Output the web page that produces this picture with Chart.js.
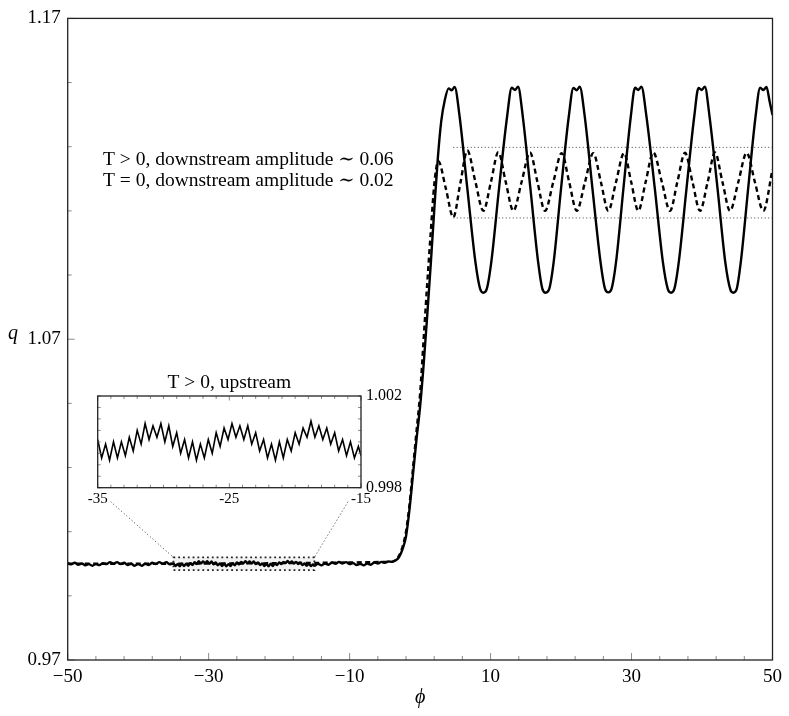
<!DOCTYPE html>
<html>
<head>
<meta charset="utf-8">
<script src="https://cdn.jsdelivr.net/npm/chart.js@4.4.1/dist/chart.umd.min.js"></script>
<style>
  html, body { margin: 0; padding: 0; background: #fff; }
  #wrap { position: relative; width: 789px; height: 716px; }
  #main { position: absolute; left: 0; top: 0; }
  #inset { position: absolute; left: 60px; top: 360px; }
</style>
</head>
<body>
<div id="wrap">
  <canvas id="main" width="789" height="716"></canvas>
  <canvas id="inset" width="370" height="160"></canvas>
</div>
<script>
// upstream, left of the zoom window
const upLeftPhi = [-50,-49.5,-49,-48.5,-48,-47.5,-47,-46.5,-46,-45.5,-45,-44.5,-44,-43.5,-43,-42.5,-42,-41.5,-41,-40.5,-40,-39.5,-39,-38.5,-38,-37.5,-37,-36.5,-36,-35.5]
const upLeftQ   = [1.0002,0.9998,1.0003,0.9997,1.0001,0.9995,0.9999,0.9994,0.9999,0.9996,1.0002,0.9999,1.0005,1.0000,1.0005,0.9999,1.0003,0.9996,1.0000,0.9994,0.9999,0.9994,1.0000,0.9996,1.0003,0.9999,1.0005,1.0000,1.0005,0.9998]

// T > 0 upstream, the part shown magnified in the inset
const insetPhi = [-35.0,-34.7,-34.4,-34.1,-33.8,-33.5,-33.2,-32.9,-32.6,-32.3,-32.0,-31.7,-31.4,-31.1,-30.8,-30.5,-30.2,-29.9,-29.6,-29.3,-29.0,-28.7,-28.4,-28.1,-27.8,-27.5,-27.2,-26.9,-26.6,-26.3,-26.0,-25.7,-25.4,-25.1,-24.8,-24.5,-24.2,-23.9,-23.6,-23.3,-23.0,-22.7,-22.4,-22.1,-21.8,-21.5,-21.2,-20.9,-20.6,-20.3,-20.0,-19.7,-19.4,-19.1,-18.8,-18.5,-18.2,-17.9,-17.6,-17.3,-17.0,-16.7,-16.4,-16.1,-15.8,-15.5,-15.2,-15.0]
const insetQ   = [1.0001,0.9993,0.9999,0.9992,1.0000,0.9993,1.0000,0.9994,1.0002,0.9996,1.0005,0.9999,1.0008,1.0001,1.0007,1.0002,1.0008,1.0000,1.0007,0.9998,1.0004,0.9995,1.0001,0.9993,1.0000,0.9992,0.9999,0.9993,1.0001,0.9995,1.0004,0.9998,1.0006,1.0001,1.0008,1.0002,1.0007,1.0001,1.0007,0.9999,1.0004,0.9996,1.0001,0.9993,0.9999,0.9992,1.0000,0.9993,1.0001,0.9996,1.0004,0.9999,1.0006,1.0002,1.0009,1.0002,1.0007,1.0001,1.0006,0.9999,1.0004,0.9996,1.0001,0.9994,1.0000,0.9993,0.9998,0.9994]

// upstream, right of the zoom window
const upRightPhi = [-14.5,-14,-13.5,-13,-12.5,-12,-11.5,-11,-10.5,-10,-9.5,-9,-8.5,-8,-7.5,-7,-6.5,-6,-5.5,-5,-4.5]
const upRightQ   = [1.0000,0.9995,1.0001,0.9997,1.0004,1.0000,1.0006,1.0001,1.0005,0.9999,1.0002,0.9996,1.0000,0.9995,1.0001,0.9997,1.0004,1.0001,1.0006,1.0003,1.0007]

// T > 0: jump and downstream wave
const solidPhi = [-4,-3.5,-3,-2.5,-2,-1.5,-1,-0.5,0,0.5,1,1.5,2,2.5,3,3.5,
  4.05,4.48,4.9,5.6,6.7,7.85,8.5,8.97,9.45,10.1,11.2,12.35,
  13.0,13.47,13.9,14.55,15.65,16.75,17.35,17.82,18.3,18.95,20.0,21.1,
  21.75,22.22,22.65,23.35,24.45,25.6,26.25,26.7,27.15,27.8,28.85,29.9,
  30.5,30.96,31.4,32.1,33.3,34.45,35.15,35.6,36.05,36.7,37.8,38.9,
  39.5,39.95,40.4,41.05,42.2,43.3,44.0,44.44,44.9,45.5,46.55,47.6,
  48.25,48.7,49.15,49.6,50]
const solidQ = [1.0006,1.0010,1.0020,1.0045,1.0085,1.0170,1.0280,1.0390,1.0490,1.0620,1.0770,1.0930,1.1100,1.1260,1.1380,1.1445,
  1.1482,1.1476,1.1486,1.1395,1.1170,1.0940,1.0858,1.0845,1.0856,1.0940,1.1170,1.1395,
  1.1484,1.1477,1.1487,1.1398,1.1170,1.0940,1.0857,1.0845,1.0855,1.0940,1.1170,1.1395,
  1.1483,1.1476,1.1487,1.1396,1.1170,1.0940,1.0856,1.0846,1.0856,1.0940,1.1170,1.1395,
  1.1484,1.1477,1.1487,1.1397,1.1170,1.0940,1.0856,1.0845,1.0855,1.0940,1.1170,1.1395,
  1.1483,1.1477,1.1487,1.1397,1.1170,1.0940,1.0856,1.0845,1.0855,1.0940,1.1170,1.1395,
  1.1484,1.1477,1.1486,1.1440,1.1399]

// T = 0: flat upstream, jump and downstream wave
const dashedPhi = [-50,-4,-3.5,-3,-2.5,-2,-1.5,-1,-0.5,0,0.5,1,1.5,2,2.58,
  3.65,4.71,5.7,6.7,7.85,8.97,10.05,11.1,12.15,13.23,14.4,15.59,16.65,17.72,18.9,20.09,21.15,22.22,
  23.4,24.57,25.65,26.7,27.8,28.93,29.95,30.96,32.0,33.09,34.3,35.46,36.5,37.59,38.65,39.71,
  40.8,41.84,42.9,43.97,45.15,46.34,47.5,48.7,50]
const dashedQ = [1.0000,1.0006,1.0012,1.0025,1.0052,1.0100,1.0185,1.0300,1.0415,1.0530,1.0700,1.0870,1.1030,1.1180,1.1255,
  1.1170,1.1080,1.1185,1.1288,1.1190,1.1100,1.1190,1.1283,1.1190,1.1100,1.1190,1.1282,1.1190,1.1100,1.1190,1.1280,1.1190,1.1100,
  1.1190,1.1280,1.1190,1.1100,1.1190,1.1280,1.1190,1.1100,1.1190,1.1282,1.1190,1.1100,1.1190,1.1281,1.1190,1.1100,
  1.1190,1.1282,1.1190,1.1100,1.1190,1.1281,1.1190,1.1100,1.1229]

// dotted guide lines bounding the T = 0 wave
const bandPhi = [4.7, 50]
const bandTop = 1.1298
const bandBottom = 1.1078

// zoom window drawn on the main plot
const zoomPhi = [-35, -15]
const zoomQ = [0.998, 1.002]

const xTickLabels = ["\u221250", "\u221230", "\u221210", "10", "30", "50"]
const yTickLabels = ["0.97", "1.07", "1.17"]
const insetXLabels = ["-35", "-25", "-15"]
const insetYLabels = ["0.998", "1.002"]
const notes = ["T > 0, downstream amplitude \u223c 0.06", "T = 0, downstream amplitude \u223c 0.02"]

const SERIF = "'Liberation Serif', 'DejaVu Serif', serif"

const pts = (xs, ys) => xs.map((x, i) => ({ x, y: ys[i] }))
const flat = (xs, v) => xs.map(x => ({ x, y: v }))

function tick(ctx, x0, y0, x1, y1) {
  ctx.beginPath(); ctx.moveTo(x0, y0); ctx.lineTo(x1, y1); ctx.stroke()
}

// ---------- inset ----------
const insetDeco = {
  id: "insetDeco",
  beforeDraw(chart) {
    const { ctx, chartArea: a } = chart
    ctx.save()
    ctx.fillStyle = "#fff"
    ctx.fillRect(a.left, a.top, a.right - a.left, a.bottom - a.top)
    ctx.restore()
  },
  afterDraw(chart) {
    const { ctx, chartArea: a, scales } = chart
    ctx.save()
    ctx.strokeStyle = "#8a8a8a"
    ctx.lineWidth = 1
    scales.x.ticks.forEach((t, i) => {
      const px = scales.x.getPixelForValue(t.value)
      const len = i % 10 === 0 ? 4.5 : 3
      tick(ctx, px, a.bottom, px, a.bottom - len)
      tick(ctx, px, a.top, px, a.top + len)
    })
    scales.y.ticks.forEach((t) => {
      const py = scales.y.getPixelForValue(t.value)
      tick(ctx, a.left, py, a.left + 3, py)
      tick(ctx, a.right, py, a.right - 3, py)
    })
    ctx.strokeStyle = "#222"
    ctx.lineWidth = 1.3
    ctx.strokeRect(a.left, a.top, a.right - a.left, a.bottom - a.top)
    ctx.fillStyle = "#000"
    ctx.font = `19.5px ${SERIF}`
    ctx.textAlign = "center"
    ctx.textBaseline = "middle"
    ctx.fillText("T > 0, upstream", (a.left + a.right) / 2, a.top - 13)
    ctx.restore()
  },
}

const insetChart = new Chart(document.getElementById("inset"), {
  type: "line",
  data: {
    datasets: [{
      data: pts(insetPhi, insetQ),
      borderColor: "#000",
      borderWidth: 1.6,
      pointRadius: 0,
      tension: 0,
    }],
  },
  options: {
    responsive: false,
    animation: false,
    events: [],
    layout: { padding: { left: 37.7, top: 36, right: 0, bottom: 0 } },
    plugins: { legend: { display: false }, tooltip: { enabled: false } },
    scales: {
      x: {
        type: "linear", min: -35, max: -15,
        grid: { display: false, drawTicks: false }, border: { display: false },
        ticks: {
          stepSize: 1, autoSkip: false, maxRotation: 0, padding: 2, color: "#000",
          font: { family: SERIF, size: 15 },
          callback: (v, i) => (i % 10 === 0 ? insetXLabels[i / 10] : ""),
        },
        afterFit: (s) => { s.height = 32.3 },
      },
      y: {
        position: "right", min: 0.998, max: 1.002,
        grid: { display: false, drawTicks: false }, border: { display: false },
        ticks: {
          stepSize: 0.0005, autoSkip: false, padding: 5, color: "#000",
          font: { family: SERIF, size: 16 },
          callback: (v, i) => (i % 8 === 0 ? insetYLabels[i / 8] : ""),
        },
        afterFit: (s) => { s.width = 69 },
      },
    },
  },
  plugins: [insetDeco],
})

// ---------- main ----------
const insetCanvas = document.getElementById("inset")

const mainDeco = {
  id: "mainDeco",
  beforeDatasetsDraw(chart) {
    const { ctx, scales: { x, y } } = chart
    const x0 = x.getPixelForValue(zoomPhi[0]), x1 = x.getPixelForValue(zoomPhi[1])
    const y0 = y.getPixelForValue(zoomQ[1]), y1 = y.getPixelForValue(zoomQ[0])
    ctx.save()
    ctx.fillStyle = "rgba(0,0,0,0.05)"
    ctx.fillRect(x0, y0, x1 - x0, y1 - y0)
    ctx.restore()
  },
  afterDraw(chart) {
    const { ctx, chartArea: a, scales: { x, y } } = chart
    ctx.save()

    // zoom window and connectors to the inset
    const x0 = x.getPixelForValue(zoomPhi[0]), x1 = x.getPixelForValue(zoomPhi[1])
    const y0 = y.getPixelForValue(zoomQ[1]), y1 = y.getPixelForValue(zoomQ[0])
    ctx.strokeStyle = "#222"
    ctx.lineWidth = 1.8
    ctx.setLineDash([1.8, 3])
    ctx.strokeRect(x0, y0, x1 - x0, y1 - y0)

    const ia = insetChart.chartArea
    const ox = insetCanvas.offsetLeft, oy = insetCanvas.offsetTop
    ctx.lineWidth = 1
    ctx.setLineDash([1, 2.5])
    ctx.strokeStyle = "#333"
    tick(ctx, ox + ia.left + 13, oy + ia.bottom + 14, x0, y0)
    tick(ctx, ox + ia.right - 13, oy + ia.bottom + 14, x1, y0)
    ctx.setLineDash([])

    // inside ticks, bottom and left only
    ctx.strokeStyle = "#8a8a8a"
    ctx.lineWidth = 1
    x.ticks.forEach((t, i) => {
      const px = x.getPixelForValue(t.value)
      tick(ctx, px, a.bottom, px, a.bottom - (i % 5 === 0 ? 7 : 4))
    })
    y.ticks.forEach((t, i) => {
      const py = y.getPixelForValue(t.value)
      tick(ctx, a.left, py, a.left + (i % 5 === 0 ? 7 : 4), py)
    })

    // frame
    ctx.strokeStyle = "#222"
    ctx.lineWidth = 1.3
    ctx.strokeRect(a.left, a.top, a.right - a.left, a.bottom - a.top)

    // labels and notes
    ctx.fillStyle = "#000"
    ctx.textBaseline = "middle"
    ctx.font = `italic 20px ${SERIF}`
    ctx.textAlign = "center"
    ctx.fillText("q", 13, 334)
    ctx.fillText("\u03d5", (a.left + a.right) / 2, 698)
    ctx.font = `19.5px ${SERIF}`
    ctx.textAlign = "left"
    ctx.fillText(notes[0], 103, 160)
    ctx.fillText(notes[1], 103, 181)
    ctx.restore()
  },
}

new Chart(document.getElementById("main"), {
  type: "line",
  data: {
    datasets: [
      {
        label: "T > 0",
        data: [...pts(upLeftPhi, upLeftQ), ...pts(insetPhi, insetQ), ...pts(upRightPhi, upRightQ), ...pts(solidPhi, solidQ)],
        borderColor: "#000", borderWidth: 2.4, pointRadius: 0,
        cubicInterpolationMode: "monotone",
      },
      {
        label: "T = 0",
        data: pts(dashedPhi, dashedQ),
        borderColor: "#000", borderWidth: 2.4, pointRadius: 0,
        borderDash: [5, 3.5],
        cubicInterpolationMode: "monotone",
      },
      {
        data: flat(bandPhi, bandTop),
        borderColor: "#444", borderWidth: 1, pointRadius: 0, borderDash: [1, 2.5],
      },
      {
        data: flat(bandPhi, bandBottom),
        borderColor: "#444", borderWidth: 1, pointRadius: 0, borderDash: [1, 2.5],
      },
    ],
  },
  options: {
    responsive: false,
    animation: false,
    events: [],
    layout: { padding: { left: 0, right: 16.5, top: 12.5, bottom: 0 } },
    plugins: { legend: { display: false }, tooltip: { enabled: false } },
    scales: {
      x: {
        type: "linear", min: -50, max: 50,
        grid: { display: false, drawTicks: false }, border: { display: false },
        ticks: {
          stepSize: 4, autoSkip: false, maxRotation: 0, padding: 6, color: "#000",
          font: { family: SERIF, size: 19 },
          callback: (v, i) => (i % 5 === 0 ? xTickLabels[i / 5] : ""),
        },
        afterFit: (s) => { s.height = 56 },
      },
      y: {
        min: 0.97, max: 1.17,
        grid: { display: false, drawTicks: false }, border: { display: false },
        ticks: {
          stepSize: 0.02, autoSkip: false, padding: 7, color: "#000",
          font: { family: SERIF, size: 19 },
          callback: (v, i) => (i % 5 === 0 ? yTickLabels[i / 5] : ""),
        },
        afterFit: (s) => { s.width = 67.7 },
      },
    },
  },
  plugins: [mainDeco],
})
</script>
</body>
</html>
